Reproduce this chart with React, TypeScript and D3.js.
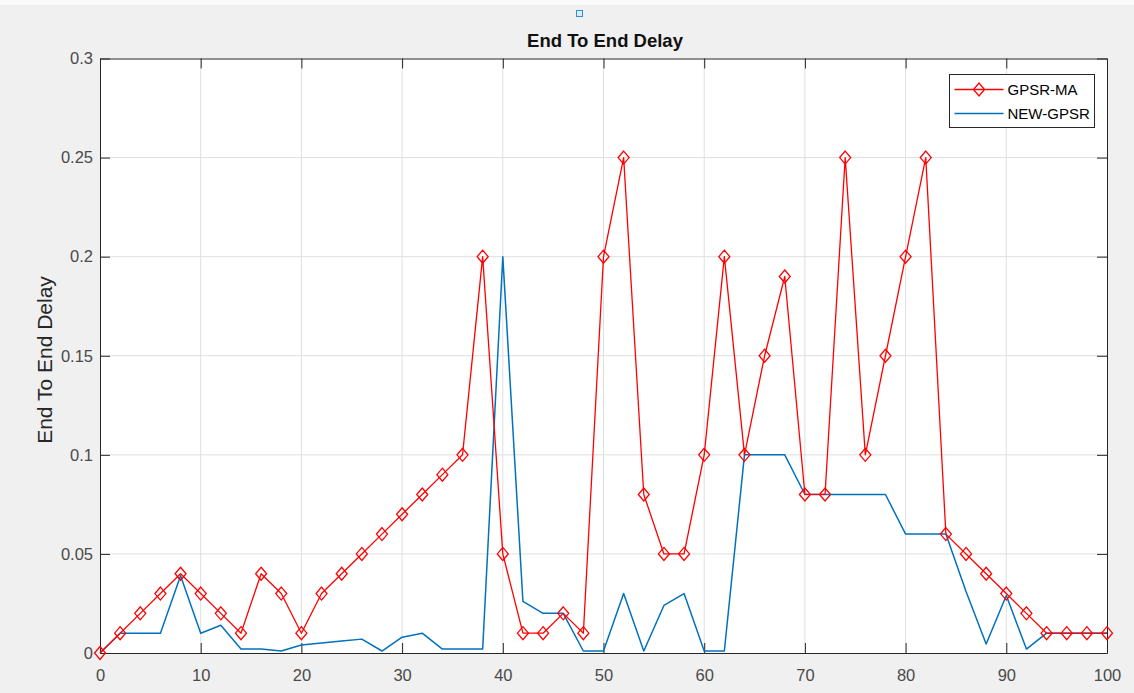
import React, { useEffect, useRef } from 'react';
import * as d3 from 'd3';

const nodes: number[] = d3.range(0, 101, 2);

const gpsrMa: number[] = [
	0, 0.01, 0.02, 0.03, 0.04, 0.03, 0.02, 0.01, 0.04, 0.03, 0.01, 0.03, 0.04,
	0.05, 0.06, 0.07, 0.08, 0.09, 0.1, 0.2, 0.05, 0.01, 0.01, 0.02, 0.01, 0.2,
	0.25, 0.08, 0.05, 0.05, 0.1, 0.2, 0.1, 0.15, 0.19, 0.08, 0.08, 0.25, 0.1,
	0.15, 0.2, 0.25, 0.06, 0.05, 0.04, 0.03, 0.02, 0.01, 0.01, 0.01, 0.01,
];

const newGpsr: number[] = [
	0, 0.01, 0.01, 0.01, 0.039, 0.01, 0.014, 0.002, 0.002, 0.001, 0.004, 0.005,
	0.006, 0.007, 0.001, 0.008, 0.01, 0.002, 0.002, 0.002, 0.2, 0.026, 0.02,
	0.02, 0.001, 0.001, 0.03, 0.001, 0.024, 0.03, 0.001, 0.001, 0.1, 0.1, 0.1,
	0.08, 0.08, 0.08, 0.08, 0.08, 0.06, 0.06, 0.06, 0.031, 0.0045, 0.029, 0.002,
	0.01, 0.01, 0.01, 0.01,
];

const xTicks: number[] = [0, 10, 20, 30, 40, 50, 60, 70, 80, 90, 100];
const yTicks: number[] = [0, 0.05, 0.1, 0.15, 0.2, 0.25, 0.3];

const seriesNames = ['GPSR-MA', 'NEW-GPSR'];

export default function App() {
	const chartRef = useRef<SVGSVGElement | null>(null);

	useEffect(() => {
		const el = chartRef.current;
		if (!el) return;
		const svg = d3.select(el);
		svg.selectAll('*').remove();

		const W = 1134;
		const H = 693;
		const margin = { top: 58.5, right: 27, bottom: 40, left: 100 };
		const width = W - margin.left - margin.right;
		const height = H - margin.top - margin.bottom;
		const font = "'Liberation Sans', Arial, Helvetica, sans-serif";
		const red = '#ff0000';
		const blue = '#0072bd';

		// figure background
		svg.append('rect').attr('width', W).attr('height', H).attr('fill', '#f0f0f0');
		svg.append('rect').attr('width', W).attr('height', 5).attr('fill', '#fafafa');

		// little selection square above the title
		svg.append('rect')
			.attr('x', 576.5)
			.attr('y', 10.5)
			.attr('width', 6)
			.attr('height', 6)
			.attr('fill', '#d8ecfa')
			.attr('stroke', '#2f8fd8')
			.attr('stroke-width', 1);

		const g = svg.append('g').attr('transform', `translate(${margin.left},${margin.top})`);

		const x = d3.scaleLinear().domain([0, 100]).range([0, width]);
		const y = d3.scaleLinear().domain([0, 0.3]).range([height, 0]);

		g.append('rect').attr('width', width).attr('height', height).attr('fill', '#ffffff');

		// grid
		g.append('g')
			.selectAll('line')
			.data(xTicks.slice(1, -1))
			.join('line')
			.attr('x1', (d) => x(d))
			.attr('x2', (d) => x(d))
			.attr('y1', 0)
			.attr('y2', height)
			.attr('stroke', '#dfdfdf')
			.attr('stroke-width', 1);
		g.append('g')
			.selectAll('line')
			.data(yTicks.slice(1, -1))
			.join('line')
			.attr('x1', 0)
			.attr('x2', width)
			.attr('y1', (d) => y(d))
			.attr('y2', (d) => y(d))
			.attr('stroke', '#dfdfdf')
			.attr('stroke-width', 1);

		// axes (inward ticks on all four sides)
		const styleAxis = (sel: any) => {
			sel.selectAll('.domain').attr('stroke', '#262626');
			sel.selectAll('.tick line').attr('stroke', '#262626');
			sel.selectAll('text')
				.attr('fill', '#4a4a4a')
				.style('font-family', font)
				.style('font-size', '16.5px');
		};

		const xAxis = g.append('g')
			.attr('transform', `translate(0,${height})`)
			.call(d3.axisBottom(x).tickValues(xTicks).tickSize(-10).tickPadding(16).tickSizeOuter(0).tickFormat(d3.format('d')));
		styleAxis(xAxis);

		const xTop = g.append('g')
			.call(d3.axisTop(x).tickValues(xTicks).tickSize(-10).tickSizeOuter(0).tickFormat(() => ''));
		styleAxis(xTop);

		const yAxis = g.append('g')
			.call(d3.axisLeft(y).tickValues(yTicks).tickSize(-10).tickPadding(7).tickSizeOuter(0).tickFormat((d: any) => (d === 0 ? '0' : String(+d))));
		styleAxis(yAxis);

		const yRight = g.append('g')
			.attr('transform', `translate(${width},0)`)
			.call(d3.axisRight(y).tickValues(yTicks).tickSize(-10).tickSizeOuter(0).tickFormat(() => ''));
		styleAxis(yRight);

		const line = d3.line<number>()
			.x((d, i) => x(nodes[i]))
			.y((d) => y(d));

		// NEW-GPSR
		g.append('path')
			.datum(newGpsr)
			.attr('fill', 'none')
			.attr('stroke', blue)
			.attr('stroke-width', 1.5)
			.attr('stroke-linejoin', 'round')
			.attr('d', line);

		// GPSR-MA
		g.append('path')
			.datum(gpsrMa)
			.attr('fill', 'none')
			.attr('stroke', red)
			.attr('stroke-width', 1.3)
			.attr('stroke-linejoin', 'round')
			.attr('d', line);

		const diamond = (cx: number, cy: number) =>
			`M${cx},${cy - 6.5}L${cx + 5.5},${cy}L${cx},${cy + 6.5}L${cx - 5.5},${cy}Z`;

		g.append('g')
			.selectAll('path')
			.data(gpsrMa)
			.join('path')
			.attr('d', (d, i) => diamond(x(nodes[i]), y(d)))
			.attr('fill', 'none')
			.attr('stroke', red)
			.attr('stroke-width', 1.3);

		// title
		svg.append('text')
			.attr('x', 605)
			.attr('y', 47)
			.attr('text-anchor', 'middle')
			.style('font-family', font)
			.style('font-size', '18.5px')
			.style('font-weight', 'bold')
			.attr('fill', '#111')
			.text('End To End Delay');

		// y label
		svg.append('text')
			.attr('transform', `translate(52,${360}) rotate(-90)`)
			.attr('text-anchor', 'middle')
			.style('font-family', font)
			.style('font-size', '21px')
			.attr('fill', '#262626')
			.text('End To End Delay');

		// legend
		const lg = svg.append('g').attr('transform', 'translate(949.5,74.5)');
		lg.append('rect')
			.attr('width', 145)
			.attr('height', 53)
			.attr('fill', '#ffffff')
			.attr('stroke', '#262626')
			.attr('stroke-width', 1);
		const colors = [red, blue];
		seriesNames.forEach((name, i) => {
			const ly = 15 + i * 24;
			lg.append('line')
				.attr('x1', 5)
				.attr('x2', 54)
				.attr('y1', ly)
				.attr('y2', ly)
				.attr('stroke', colors[i])
				.attr('stroke-width', i === 0 ? 1.3 : 1.5);
			if (i === 0) {
				lg.append('path')
					.attr('d', diamond(29.5, ly))
					.attr('fill', 'none')
					.attr('stroke', red)
					.attr('stroke-width', 1.3);
			}
			lg.append('text')
				.attr('x', 58)
				.attr('y', ly + 5.5)
				.style('font-family', font)
				.style('font-size', '15px')
				.attr('fill', '#000')
				.text(name);
		});
	}, []);

	return (
		<div style={{ position: 'fixed', left: 0, top: 0 }}>
			<svg ref={chartRef} width={1134} height={693} style={{ display: 'block' }} />
		</div>
	);
}
